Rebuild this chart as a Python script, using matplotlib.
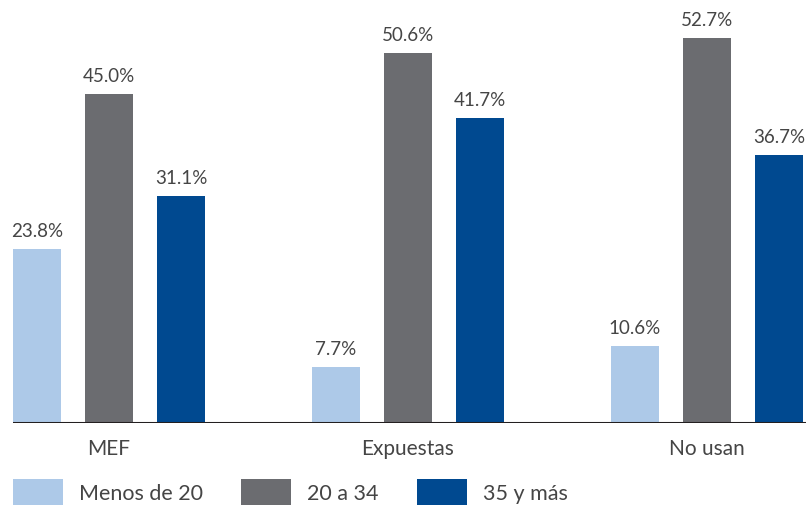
import matplotlib
matplotlib.use("Agg")
import matplotlib.pyplot as plt
import numpy as np
from matplotlib.patches import Patch

categories = ["MEF", "Expuestas", "No usan"]
series_names = ["Menos de 20", "20 a 34", "35 y más"]
menos_20 = [23.8, 7.7, 10.6]
de_20_34 = [45.0, 50.6, 52.7]
mas_35 = [31.1, 41.7, 36.7]
series = [menos_20, de_20_34, mas_35]
colors = ["#adc9e8", "#6b6c70", "#004990"]

plt.rcParams['font.family'] = ['Lato', 'DejaVu Sans']
text_color = "#454545"

W, H = 806, 506
fig = plt.figure(figsize=(W / 100, H / 100), dpi=100)
ax = fig.add_axes([13 / W, (H - 424) / H, (806 - 13) / W, 424 / H])

x = np.arange(len(categories))
width = 0.1605
offset = 0.2408
for i, (vals, c) in enumerate(zip(series, colors)):
    pos = x + (i - 1) * offset
    bars = ax.bar(pos, vals, width=width, color=c, zorder=2)
    for b, v in zip(bars, vals):
        ax.annotate(f"{v:.1f}%", (b.get_x() + b.get_width() / 2, v),
                    xytext=(0, 7), textcoords="offset points",
                    ha="center", va="bottom", fontsize=13.5, color=text_color)

ax.set_xlim(-0.321, 2.331)
ax.set_ylim(0, 58.0)
ax.axhline(0, color="#231f20", lw=2.2, zorder=3)
for s in ax.spines.values():
    s.set_visible(False)
ax.set_yticks([])
ax.set_xticks(x)
ax.set_xticklabels(categories, fontsize=15, color=text_color)
ax.tick_params(axis="x", length=0, pad=11)

handles = [Patch(facecolor=c, edgecolor="none") for c in colors]
fig.legend(handles, series_names, loc="lower left",
           bbox_to_anchor=(13 / W, 0), ncol=3, frameon=False,
           fontsize=15.5, labelcolor=text_color,
           handlelength=2.3, handleheight=1.45, handletextpad=0.75,
           columnspacing=1.8, borderpad=0, borderaxespad=0)

fig.savefig("out.png", dpi=100)
